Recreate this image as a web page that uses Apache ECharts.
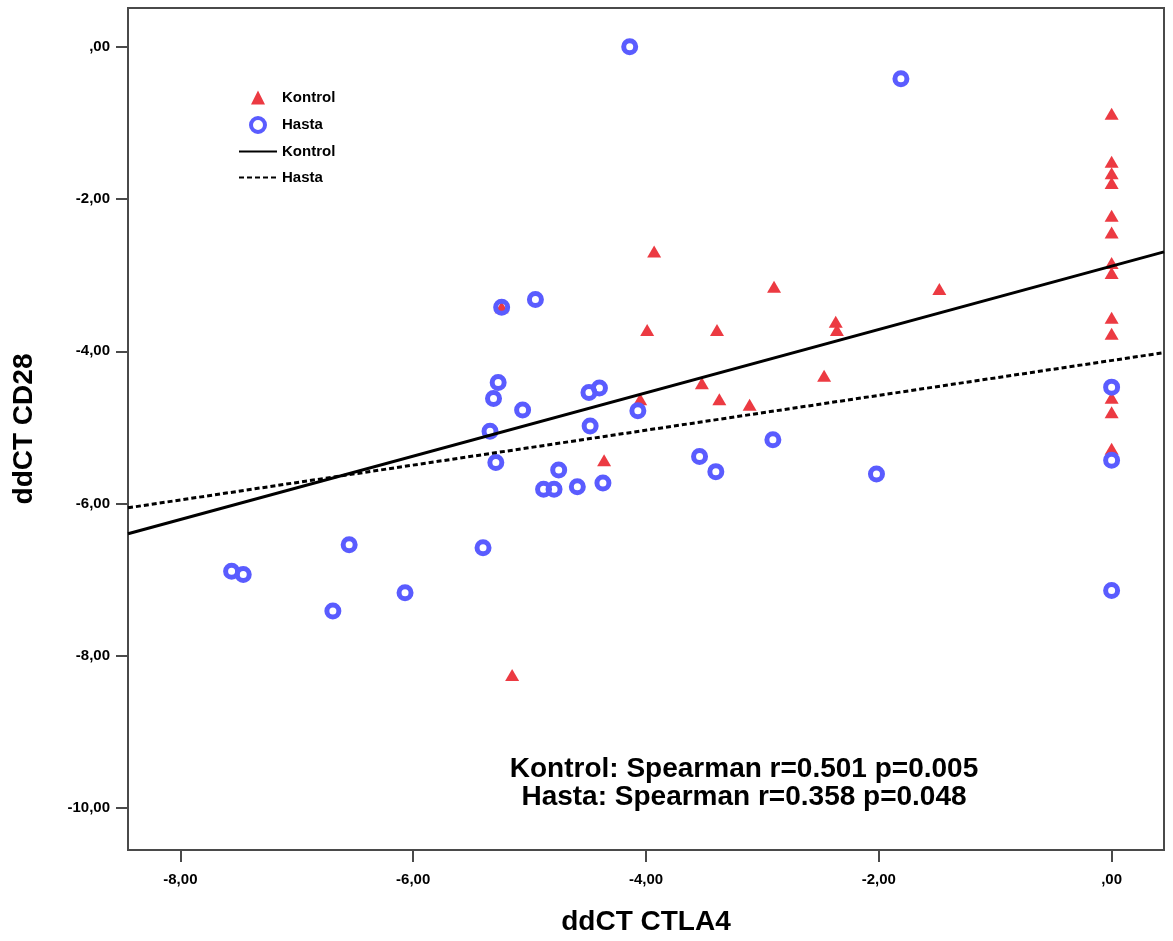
<!DOCTYPE html>
<html>
<head>
    <meta charset="utf-8">
    <title>ddCT CTLA4 - ddCT CD28</title>
    <script src="https://cdn.jsdelivr.net/npm/echarts@6.0.0/dist/echarts.min.js"></script>
    <style>
        html, body { margin: 0; padding: 0; background: #fff; }
        #chart { width: 1173px; height: 941px; }
    </style>
</head>
<body>
<div id="chart"></div>
<script type="text/javascript">
    // Kontrol (kırmızı üçgen)
    var kontrolX = [-3.93, -3.99, -3.39, -2.90, -1.48, -2.37, -2.36, -2.47, -3.52, -3.37, -3.11, -4.05, -4.36, -5.15, -5.24,
        0, 0, 0, 0, 0, 0, 0, 0, 0, 0, 0, 0, 0];
    var kontrolY = [-2.69, -3.72, -3.72, -3.15, -3.18, -3.61, -3.72, -4.32, -4.42, -4.63, -4.70, -4.63, -5.43, -8.25, -3.42,
        -0.88, -1.51, -1.66, -1.79, -2.22, -2.44, -2.84, -2.97, -3.56, -3.77, -4.61, -4.80, -5.28];
    // Hasta (mavi halka)
    var hastaX = [-4.14, -1.81, -5.24, -4.95, -5.27, -5.31, -5.06, -5.34, -5.29, -4.75, -4.88, -4.79, -4.59, -4.37,
        -4.49, -4.40, -4.48, -4.07, -3.54, -3.40, -2.91, -2.02, -7.56, -7.46, -6.55, -6.69, -6.07, -5.40, 0, 0, 0];
    var hastaY = [0.00, -0.42, -3.42, -3.32, -4.41, -4.62, -4.77, -5.05, -5.46, -5.56, -5.81, -5.81, -5.78, -5.73,
        -4.54, -4.48, -4.98, -4.78, -5.38, -5.58, -5.16, -5.61, -6.89, -6.93, -6.54, -7.41, -7.17, -6.58, -4.47, -5.43, -7.14];
    // fit çizgileri (eğim, kesişim)
    var kontrolFit = [0.416, -2.88];
    var hastaFit = [0.229, -4.12];
    var xTicks = [-8, -6, -4, -2, 0];
    var yTicks = [-10, -8, -6, -4, -2, 0];
    var statLines = ['Kontrol: Spearman r=0.501 p=0.005', 'Hasta: Spearman r=0.358 p=0.048'];

    var xMin = -8.45, xMax = 0.45, yMin = -10.55, yMax = 0.51;

    function pairs(xs, ys) {
        var out = [];
        for (var i = 0; i < xs.length; i++) out.push([xs[i], ys[i]]);
        return out;
    }
    function fitLine(f) {
        return [[xMin, f[1] + f[0] * xMin], [xMax, f[1] + f[0] * xMax]];
    }
    function fmt(v) {
        var s = Math.abs(v).toFixed(2).replace('.', ',');
        if (s.indexOf('0,') === 0) s = s.slice(1);
        return (v < 0 ? '-' : '') + s;
    }

    var font = 'Liberation Sans, Arial, sans-serif';
    var axisColor = '#4a4a4a';
    var red = '#ec3a42', blue = '#5a5cff';
    var legendText = {fontFamily: font, fontWeight: 'bold', fontSize: 15, color: '#000'};

    var myChart = echarts.init(document.getElementById('chart'));
    myChart.setOption({
        animation: false,
        backgroundColor: '#fff',
        grid: {left: 128, right: 9, top: 8, bottom: 91, show: true, borderColor: axisColor, borderWidth: 2},
        legend: [{
            // noktalar
            orient: 'vertical', left: 249, top: 90, padding: 0,
            itemWidth: 14, itemHeight: 14, itemGap: 11,
            textStyle: Object.assign({padding: [0, 0, 0, 12]}, legendText),
            data: [
                {name: 'Kontrol', icon: 'triangle'},
                {name: 'Hasta', icon: 'circle', itemStyle: {color: '#fff', borderColor: blue, borderWidth: 4}}
            ]
        }, {
            // çizgiler
            orient: 'vertical', left: 238, top: 144, padding: 0,
            itemWidth: 38, itemHeight: 14, itemGap: 11,
            formatter: function (name) { return name.replace(' fit', ''); },
            textStyle: legendText,
            data: [
                {name: 'Kontrol fit', itemStyle: {color: 'rgba(0,0,0,0)', borderWidth: 0}},
                {name: 'Hasta fit', itemStyle: {color: 'rgba(0,0,0,0)', borderWidth: 0}}
            ]
        }],
        xAxis: {
            type: 'value', min: xMin, max: xMax,
            name: 'ddCT CTLA4', nameLocation: 'middle', nameGap: 58,
            nameTextStyle: {fontFamily: font, fontWeight: 'bold', fontSize: 28, color: '#000'},
            axisLine: {show: true, onZero: false, lineStyle: {color: axisColor, width: 2}},
            axisTick: {show: true, length: 12, customValues: xTicks, lineStyle: {color: axisColor, width: 2}},
            axisLabel: {customValues: xTicks, formatter: fmt, margin: 22,
                fontFamily: font, fontWeight: 'bold', fontSize: 15, color: '#000'},
            splitLine: {show: false}
        },
        yAxis: {
            type: 'value', min: yMin, max: yMax,
            name: 'ddCT CD28', nameLocation: 'middle', nameGap: 90,
            nameTextStyle: {fontFamily: font, fontWeight: 'bold', fontSize: 28, color: '#000'},
            axisLine: {show: true, onZero: false, lineStyle: {color: axisColor, width: 2}},
            axisTick: {show: true, length: 12, customValues: yTicks, lineStyle: {color: axisColor, width: 2}},
            axisLabel: {customValues: yTicks, formatter: fmt, margin: 18,
                fontFamily: font, fontWeight: 'bold', fontSize: 15, color: '#000'},
            splitLine: {show: false}
        },
        series: [
            {
                name: 'Kontrol', type: 'scatter', symbol: 'triangle', symbolSize: [14, 12],
                itemStyle: {color: red, opacity: 1},
                data: pairs(kontrolX, kontrolY)
            },
            {
                name: 'Hasta', type: 'scatter', symbol: 'circle', symbolSize: 12,
                itemStyle: {color: 'rgba(255,255,255,0)', borderColor: blue, borderWidth: 5, opacity: 1},
                data: pairs(hastaX, hastaY)
            },
            {
                name: 'Kontrol fit', type: 'line', symbol: 'none', silent: true,
                itemStyle: {color: '#000'},
                lineStyle: {color: '#000', width: 3, type: 'solid'},
                data: fitLine(kontrolFit)
            },
            {
                name: 'Hasta fit', type: 'line', symbol: 'none', silent: true,
                itemStyle: {color: '#000'},
                lineStyle: {color: '#000', width: 3, type: [5, 3]},
                data: fitLine(hastaFit)
            }
        ],
        graphic: [{
            type: 'text', x: 744, y: 783,
            style: {
                text: statLines.join('\n'),
                font: 'bold 28px Liberation Sans, Arial, sans-serif',
                fill: '#000', align: 'center', verticalAlign: 'middle', lineHeight: 28
            }
        }]
    });
</script>
</body>
</html>
